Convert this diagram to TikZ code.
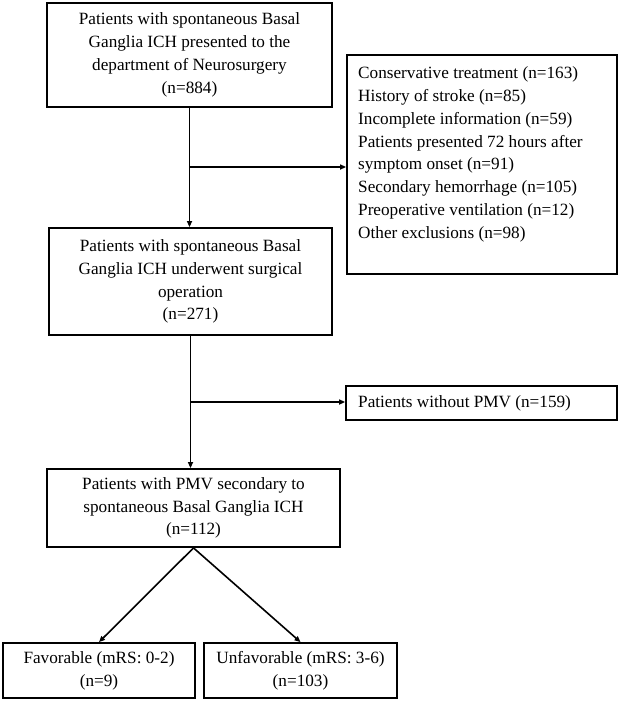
\documentclass[tikz,border=0pt]{standalone}
\usepackage{fontspec}
\setmainfont{Liberation Serif}
\usetikzlibrary{arrows.meta}
\newcommand{\figfont}{\fontsize{17.2}{22.8}\selectfont}
\begin{document}
\begin{tikzpicture}[x=1pt,y=-1pt,
  box/.style={draw=black, line width=1.8pt, inner sep=0pt, align=center, font=\figfont},
  plain/.style={inner sep=0pt, align=left, font=\figfont},
  conn/.style={line width=1.6pt, -{Triangle[length=6pt,width=5pt]}}]
\useasboundingbox (0,0) rectangle (624,702);
\fill[white] (0,0) rectangle (624,702);
\node[box, minimum width=285pt, minimum height=104pt] (b1) at (189.5,55)
  {\rule{0pt}{2pt}Patients with spontaneous Basal\\Ganglia ICH presented to the\\department of Neurosurgery\\(n=884)};
\node[box, minimum width=283pt, minimum height=107pt] (b2) at (190.5,281.5)
  {Patients with spontaneous Basal\\Ganglia ICH underwent surgical\\operation\\(n=271)};
\node[box, minimum width=270pt, minimum height=219pt] (ex) at (482,164.5) {};
\node[plain, anchor=north west] (ext) at (358,66.5)
  {Conservative treatment (n=163)\\History of stroke (n=85)\\Incomplete information (n=59)\\Patients presented 72 hours after\\symptom onset (n=91)\\Secondary hemorrhage (n=105)\\Preoperative ventilation (n=12)\\Other exclusions (n=98)};
\node[box, minimum width=271pt, minimum height=34pt] (b4) at (481.5,403) {};
\node[plain, anchor=west] (b4t) at (358,403) {Patients without PMV (n=159)};
\node[box, minimum width=293pt, minimum height=78pt] (b5) at (193.5,508)
  {Patients with PMV secondary to\\spontaneous Basal Ganglia ICH\\(n=112)};
\node[box, minimum width=192pt, minimum height=55pt] (fav) at (99,670.5)
  {Favorable (mRS: 0-2)\\(n=9)};
\node[box, minimum width=193pt, minimum height=55pt] (unf) at (300.5,670.5)
  {Unfavorable (mRS: 3-6)\\(n=103)};
\draw[conn] (b1.south) -- (b1.south |- b2.north);
\coordinate (j1) at (190,167);
\draw[conn] (j1) -- (j1 -| ex.west);
\draw[conn] (b2.south) -- (b2.south |- b5.north);
\coordinate (j2) at (190.5,402);
\draw[conn] (j2) -- (j2 -| b4.west);
\draw[conn] (b5.south) -- (fav.north);
\draw[conn] (b5.south) -- (unf.north);
\end{tikzpicture}
\end{document}
